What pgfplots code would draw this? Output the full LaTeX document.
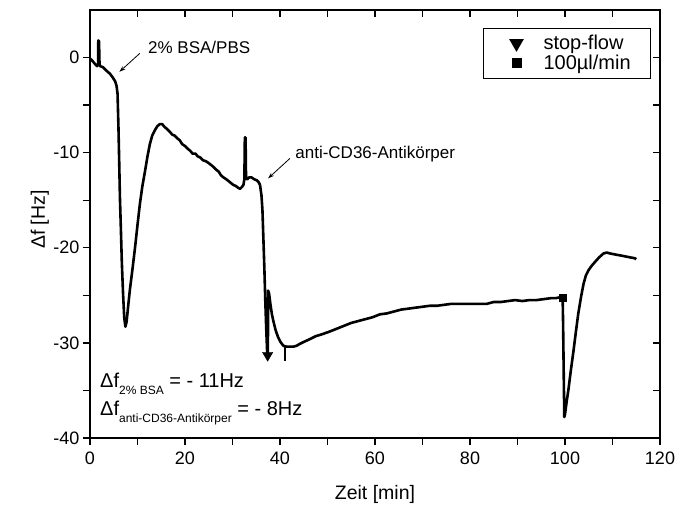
\documentclass[border=0pt]{standalone}
\usepackage{fontspec}
\setmainfont{Liberation Sans}
\usepackage{pgfplots}
\pgfplotsset{compat=1.18}
\usetikzlibrary{arrows.meta}

\pgfplotsset{
  qcmframe/.style={
    scale only axis, width=570pt, height=428pt,
    xmin=0, xmax=120, ymin=-40, ymax=5,
    xtick={0,20,...,120}, ytick={-40,-30,...,0},
    minor x tick num=1, minor y tick num=1,
    axis line style={line width=1.3pt},
    every tick/.style={line width=1.3pt, black},
    major tick length=7pt, minor tick length=7pt,
  },
}

\begin{document}
\begin{tikzpicture}
\begin{axis}[
    qcmframe, name=ax,
    tick align=outside, xtick pos=left, ytick pos=left,
    /pgf/number format/assume math mode=true,
    ticklabel style={font=\fontsize{18}{18}\selectfont},
    xticklabel style={yshift=-3pt},
    xlabel={Zeit [min]}, ylabel={Δf [Hz]},
    label style={font=\fontsize{19.5}{20}\selectfont},
    xlabel style={at={(axis description cs:0.5,-0.131)}, anchor=center},
    ylabel style={at={(axis description cs:-0.088,0.51)}, anchor=center},
    legend style={at={(0.6895,0.958)}, anchor=north west, draw=black,
        line width=0.9pt, font=\fontsize{20}{22}\selectfont,
        inner xsep=4pt, inner ysep=5pt, row sep=0pt,
        nodes={inner sep=2pt}},
    legend cell align=left,
    legend image code/.code={
        \path[draw=none] (0,0) -- (1.9cm,0);
        \draw[#1] plot coordinates {(1.02cm,0cm)};},
]
% measured curve
\addplot[black, line width=2.6pt, line join=round, forget plot] coordinates {
(0,-0.1) (0.6,-0.4) (1.1,-0.7) (1.5,-0.9) (1.7,-0.7) (1.75,1.8) (1.9,1.7) (2.0,-0.6)
(2.1,-0.9) (2.7,-1.0) (3.5,-1.4) (4.2,-1.7) (4.8,-2.1) (5.3,-2.5) (5.6,-3.0) (5.8,-3.8)
(6.0,-7.5) (6.15,-11) (6.3,-14.7) (6.5,-18) (6.7,-21.5) (6.95,-24.7) (7.2,-27.3) (7.45,-28.3)
(7.7,-27.8) (8.0,-26.3) (8.4,-24.4) (9.0,-22) (9.5,-19.9) (10.0,-17.6) (10.5,-15.4) (11.0,-13.6)
(11.6,-11.9) (12.1,-10.4) (12.6,-9.1) (13.1,-8.2) (13.7,-7.6) (14.2,-7.2) (14.7,-7.0) (15.2,-7.0)
(15.7,-7.3) (16.2,-7.5) (16.8,-7.8) (17.3,-8.1) (17.8,-8.2) (18.4,-8.5) (18.9,-8.7) (19.4,-9.1)
(20.0,-9.3) (20.6,-9.6) (21.1,-9.8) (21.6,-10.1) (22.2,-10.1) (22.7,-10.4) (23.2,-10.5) (23.8,-10.8)
(24.4,-10.9) (25.0,-11.1) (25.5,-11.3) (26.0,-11.5) (26.6,-11.8) (27.1,-12.0) (27.6,-12.4) (28.1,-12.6)
(28.7,-12.8) (29.2,-13.0) (29.7,-13.2) (30.2,-13.4) (30.7,-13.5) (31.2,-13.7) (31.6,-13.8) (32.0,-13.6)
(32.3,-13.4) (32.5,-12.8) (32.6,-8.4) (32.75,-8.4) (32.85,-12.7) (33.1,-12.8) (33.5,-12.6) (34.0,-12.6)
(34.6,-12.8) (35.1,-12.9) (35.5,-13.1) (35.8,-13.4) (36.1,-14.5) (36.3,-16) (36.5,-19) (36.7,-22)
(36.9,-25.5) (37.1,-28.5) (37.3,-31.0) (37.45,-31.0) (37.5,-24.5) (37.7,-24.8) (38.0,-26.0) (38.3,-27.0)
(38.6,-27.7) (39.1,-28.7) (39.6,-29.4) (40.1,-29.9) (40.7,-30.3) (41.4,-30.4) (42.1,-30.4) (42.8,-30.4)
(43.5,-30.3) (44.2,-30.1) (45.0,-29.9) (46.3,-29.6) (47.5,-29.3) (48.8,-29.1) (50.5,-28.8) (52.0,-28.5)
(53.5,-28.2) (55.0,-27.9) (56.5,-27.7) (58.0,-27.5) (59.5,-27.3) (61.0,-27.0) (62.5,-26.9) (64.0,-26.7)
(65.5,-26.5) (67.0,-26.4) (68.5,-26.3) (70.0,-26.2) (71.5,-26.1) (73.0,-26.1) (74.5,-26.0) (76.0,-25.9)
(77.5,-25.9) (79.0,-25.9) (80.5,-25.9) (82.0,-25.9) (83.5,-25.9) (85.0,-25.7) (86.5,-25.7) (88.0,-25.6)
(89.5,-25.5) (91.0,-25.6) (92.5,-25.5) (94.0,-25.5) (95.5,-25.4) (97.0,-25.3) (98.0,-25.3) (99.0,-25.2)
(99.5,-25.1) (99.6,-28) (99.75,-34) (99.85,-37.8) (100.0,-37.5) (100.4,-36.0) (100.7,-35.0) (101.2,-33.0)
(101.8,-30.8) (102.3,-28.8) (102.8,-26.9) (103.4,-25.1) (103.9,-23.8) (104.4,-22.9) (104.9,-22.4) (105.6,-21.9)
(106.3,-21.5) (107.2,-21.0) (108.1,-20.6) (108.8,-20.5) (109.5,-20.6) (110.5,-20.7) (111.6,-20.8) (112.6,-20.9)
(113.6,-21.0) (114.7,-21.1) (115,-21.2)
};
% event markers
\addplot[only marks, mark=triangle*, mark options={rotate=180, fill=black}, mark size=6pt, forget plot]
  coordinates {(37.4,-31.3)};
\addplot[only marks, mark=square*, mark options={fill=black}, mark size=3.5pt, forget plot]
  coordinates {(99.55,-25.2)};
\addplot[black, line width=1.5pt, forget plot] coordinates {(41.1,-30.4) (41.1,-31.9)};

\addlegendimage{black, mark=triangle*, mark options={rotate=180, fill=black}, mark size=7.5pt}
\addlegendentry{stop-flow}
\addlegendimage{black, mark=square*, mark options={fill=black}, mark size=4.5pt}
\addlegendentry{100µl/min\hspace*{14pt}}

% annotations
\node[anchor=west, font=\fontsize{17}{17}\selectfont, inner sep=0pt] at (axis cs:12.2,1.05) {2\% BSA/PBS};
\draw[-{Stealth[length=6pt,width=4pt]}, line width=0.8pt] (axis cs:10.5,0.45) -- (axis cs:6.2,-1.5);
\node[anchor=west, font=\fontsize{17}{17}\selectfont, inner sep=0pt] at (axis cs:43.2,-10.1) {anti-CD36-Antikörper};
\draw[-{Stealth[length=6pt,width=4pt]}, line width=0.8pt] (axis cs:42.1,-10.6) -- (axis cs:37.5,-12.7);

\node[anchor=base west, inner sep=0pt, font=\fontsize{20}{20}\selectfont] at (axis cs:2.1,-34.66)
  {Δf\raisebox{-7pt}{\fontsize{12}{12}\selectfont 2\% BSA} = - 11Hz};
\node[anchor=base west, inner sep=0pt, font=\fontsize{20}{20}\selectfont] at (axis cs:2.1,-37.6)
  {Δf\raisebox{-7pt}{\fontsize{12}{12}\selectfont anti-CD36-Antikörper} = - 8Hz};
\end{axis}

\begin{axis}[
    qcmframe, at={(ax.south west)}, anchor=south west,
    tick align=inside, xtick pos=right, ytick pos=right,
    xticklabels={}, yticklabels={},
]
\end{axis}

\pgfresetboundingbox
\path[use as bounding box] ([xshift=-90pt,yshift=-69pt]ax.south west) rectangle ([xshift=15pt,yshift=10pt]ax.north east);
\end{tikzpicture}
\end{document}
